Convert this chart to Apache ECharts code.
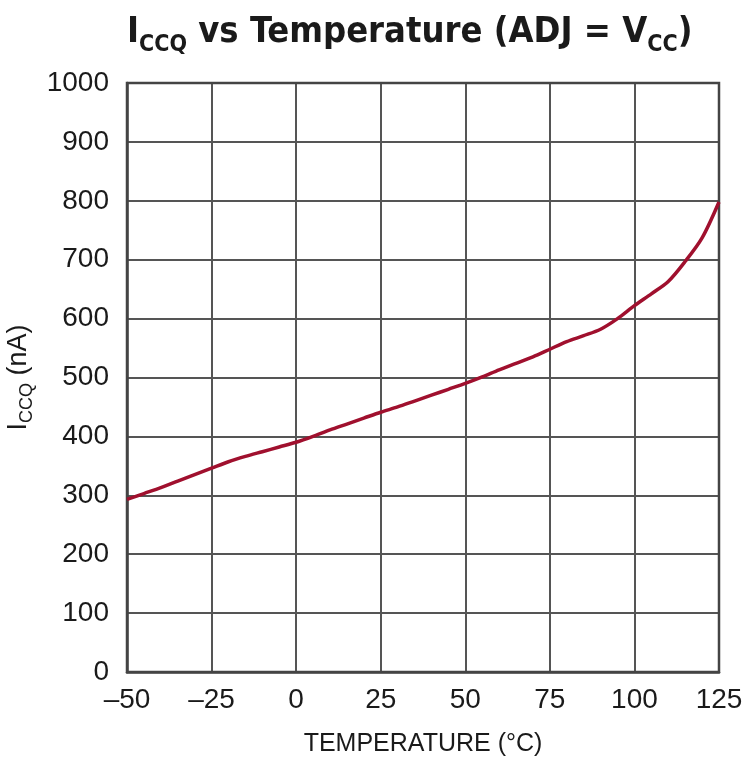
<!DOCTYPE html>
<html>
<head>
<meta charset="utf-8">
<script src="https://cdn.jsdelivr.net/npm/echarts@6/dist/echarts.min.js"></script>
<style>html,body{margin:0;padding:0;background:#fff}#c{width:742px;height:761px}</style>
</head>
<body>
<div id="c"></div>
<script>
const temperatures = [-50,-45,-40,-35,-30,-25,-20,-15,-10,-5,0,5,10,15,20,25,30,35,40,45,50,55,60,65,70,75,80,85,90,95,100,105,110,115,120,125];
const iccq = [293,303,313,324,335,346,357,366,374,382,390,400,411,421,431,441,450,460,470,480,490,501,513,524,535,548,561,571,582,600,622,642,663,697,737,798];
const xTicks = [-50,-25,0,25,50,75,100,125];
const yTicks = [0,100,200,300,400,500,600,700,800,900,1000];

const titleFont = '"DejaVu Sans Condensed","Liberation Sans",Arial,sans-serif';
const labelFont = '"Liberation Sans",Arial,sans-serif';
const chart = echarts.init(document.getElementById('c'));
chart.setOption({
  animation: false,
  backgroundColor: '#fff',
  title: {
    text: '{m|I}{s|CCQ}{m| vs Temperature (ADJ = V}{s|CC}{m|)}',
    left: 122, top: 0,
    textStyle: {
      rich: {
        m: {fontFamily: titleFont, fontWeight: 'bold', fontSize: 36, color: '#1a1a1a', lineHeight: 46, verticalAlign: 'bottom'},
        s: {fontFamily: titleFont, fontWeight: 'bold', fontSize: 23, color: '#1a1a1a', lineHeight: 46, verticalAlign: 'bottom', padding: [0,0,-6,0]}
      }
    }
  },
  grid: {left: 127, right: 23, top: 83, bottom: 89, outerBoundsMode: 'none'},
  xAxis: {
    type: 'value', min: -50, max: 125, interval: 25,
    name: 'TEMPERATURE (°C)', nameLocation: 'middle', nameGap: 60,
    nameTextStyle: {fontFamily: labelFont, fontSize: 25, color: '#1a1a1a'},
    axisLine: {show: true, onZero: false, lineStyle: {color: '#444', width: 2.5}},
    axisTick: {show: false},
    axisLabel: {fontFamily: labelFont, fontSize: 28, color: '#1a1a1a', margin: 14,
      formatter: v => (xTicks.includes(v) ? String(v).replace('-', '\u2013') : '')},
    splitLine: {show: true, lineStyle: {color: '#555', width: 2}}
  },
  yAxis: {
    type: 'value', min: 0, max: 1000, interval: 100,
    name: '{m|I}{s|CCQ}{m| (nA)}', nameLocation: 'middle', nameGap: 72, nameRotate: 90,
    nameTextStyle: {
      rich: {
        m: {fontFamily: labelFont, fontSize: 27, color: '#1a1a1a', lineHeight: 32, verticalAlign: 'bottom'},
        s: {fontFamily: labelFont, fontSize: 18, color: '#1a1a1a', lineHeight: 32, verticalAlign: 'bottom', padding: [0,0,-4,0]}
      }
    },
    axisLine: {show: true, onZero: false, lineStyle: {color: '#444', width: 2.5}},
    axisTick: {show: false},
    axisLabel: {fontFamily: labelFont, fontSize: 28, color: '#1a1a1a', margin: 18,
      formatter: v => (yTicks.includes(v) ? String(v) : '')},
    splitLine: {show: true, lineStyle: {color: '#555', width: 2}}
  },
  series: [{
    type: 'line',
    data: temperatures.map((t, i) => [t, iccq[i]]),
    showSymbol: false,
    smooth: 0.3,
    lineStyle: {color: '#a0102e', width: 3.5},
    clip: false
  }]
});
const g = chart.getModel().getComponent('grid').coordinateSystem.getRect();
chart.setOption({graphic: [{type: 'rect', shape: {x: g.x, y: g.y, width: g.width, height: g.height}, style: {fill: 'none', stroke: '#444', lineWidth: 2.5}, z: 0, silent: true}]});
</script>
</body>
</html>
